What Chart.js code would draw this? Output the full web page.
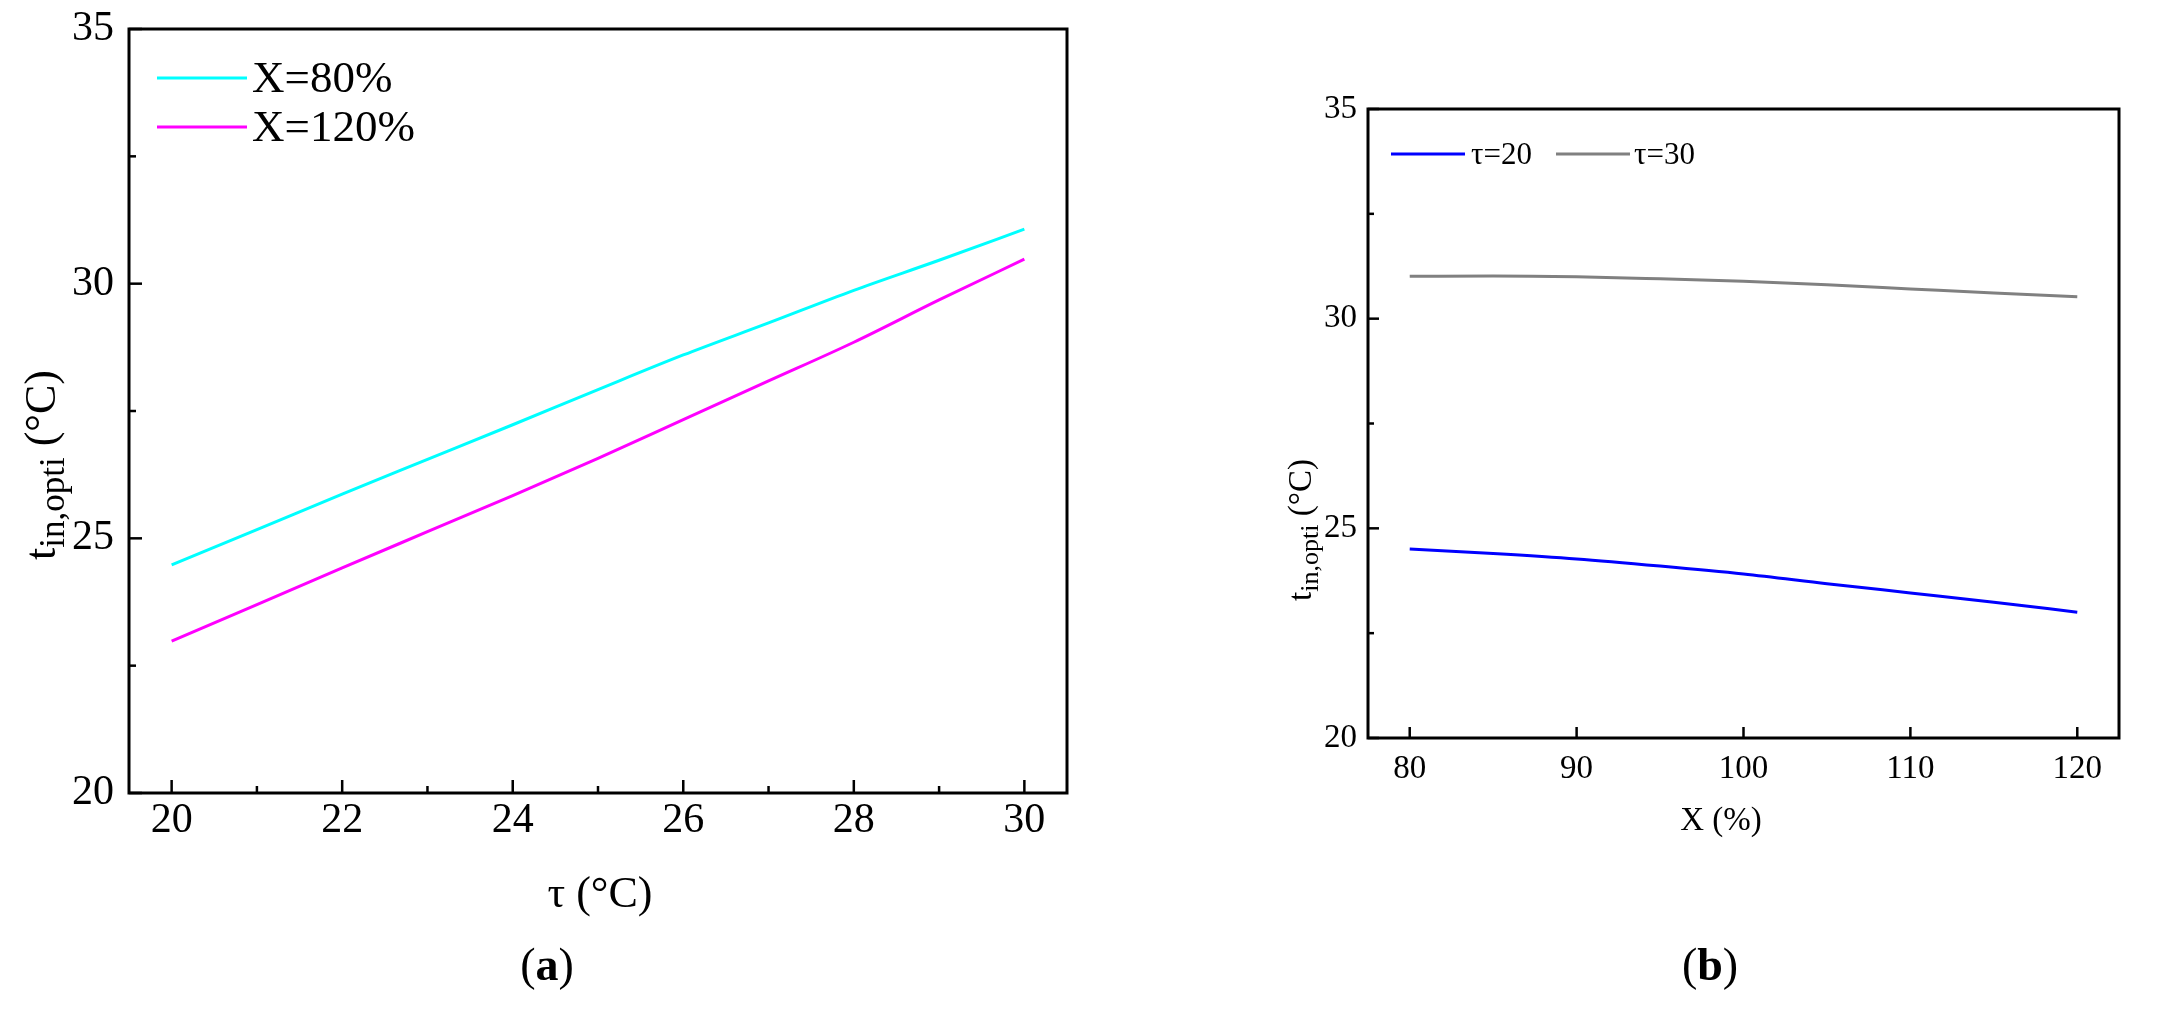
<!DOCTYPE html>
<html>
<head>
<meta charset="utf-8">
<script src="https://cdn.jsdelivr.net/npm/chart.js@4.4.0/dist/chart.umd.min.js"></script>
<style>
    body { margin: 0; background: #fff; width: 2182px; height: 1012px; position: relative; overflow: hidden; }
    canvas { position: absolute; top: 0; }
    .tag { position: absolute; font-family: 'Liberation Serif', serif; font-size: 46px; color: #000; transform: translate(-50%, -50%); }
</style>
</head>
<body>
<canvas id="chartA" width="1100" height="1012" style="left:0"></canvas>
<canvas id="chartB" width="942" height="1012" style="left:1240px"></canvas>
<div class="tag" style="left:547px;top:964px">(<b>a</b>)</div>
<div class="tag" style="left:1710px;top:964px">(<b>b</b>)</div>

<script>
// Données
const tauValues = [20, 21, 22, 23, 24, 25, 26, 27, 28, 29, 30];
const tinX80 = [24.48, 25.17, 25.87, 26.55, 27.23, 27.92, 28.60, 29.23, 29.87, 30.46, 31.07];
const tinX120 = [22.98, 23.70, 24.42, 25.13, 25.84, 26.57, 27.33, 28.09, 28.85, 29.68, 30.48];

const loadValues = [80, 85, 90, 95, 100, 105, 110, 115, 120];
const tinTau20 = [24.51, 24.40, 24.27, 24.10, 23.91, 23.68, 23.46, 23.24, 23.00];
const tinTau30 = [31.01, 31.02, 31.00, 30.95, 30.89, 30.81, 30.71, 30.61, 30.52];

// Graduations
const tauTicks = [20, 22, 24, 26, 28, 30];
const tauMinor = [21, 23, 25, 27, 29];
const loadTicks = [80, 90, 100, 110, 120];
const tinTicks = [20, 25, 30, 35];
const tinMinor = [22.5, 27.5, 32.5];

Chart.defaults.font.family = "'Liberation Serif', 'Times New Roman', serif";
Chart.defaults.color = '#000';

function toPoints(xs, ys) {
    return xs.map((x, i) => ({ x: x, y: ys[i] }));
}

// Cadre, graduations vers l'intérieur, titres d'axes et légende
const framePlugin = {
    id: 'frame',
    afterDraw(chart, args, o) {
        const { ctx, chartArea: a, scales: { x, y } } = chart;
        ctx.save();
        ctx.strokeStyle = '#000';
        ctx.lineCap = 'butt';

        // ticks
        ctx.lineWidth = 2.5;
        const xTick = (v, len) => {
            const px = x.getPixelForValue(v);
            ctx.beginPath(); ctx.moveTo(px, a.bottom); ctx.lineTo(px, a.bottom - len); ctx.stroke();
        };
        const yTick = (v, len) => {
            const py = y.getPixelForValue(v);
            ctx.beginPath(); ctx.moveTo(a.left, py); ctx.lineTo(a.left + len, py); ctx.stroke();
        };
        o.xMajor.forEach(v => xTick(v, o.major));
        o.xMinor.forEach(v => xTick(v, o.minor));
        o.yMajor.forEach(v => yTick(v, o.major));
        o.yMinor.forEach(v => yTick(v, o.minor));

        // cadre
        ctx.lineWidth = 3;
        ctx.strokeRect(a.left, a.top, a.right - a.left, a.bottom - a.top);

        // titre axe x
        ctx.fillStyle = '#000';
        ctx.textAlign = 'center';
        ctx.textBaseline = 'middle';
        ctx.font = o.titleSize + "px 'Liberation Serif'";
        ctx.fillText(o.xTitle, o.xTitleX, o.xTitleY);

        // titre axe y avec indice
        const big = o.titleSize + "px 'Liberation Serif'";
        const small = Math.round(o.titleSize * 0.8) + "px 'Liberation Serif'";
        ctx.font = big; const w1 = ctx.measureText('t').width;
        ctx.font = small; const w2 = ctx.measureText('in,opti').width;
        ctx.font = big; const w3 = ctx.measureText(' (°C)').width;
        const total = w1 + w2 + w3;
        ctx.translate(o.yTitleX, o.yTitleY);
        ctx.rotate(-Math.PI / 2);
        ctx.textAlign = 'left';
        ctx.textBaseline = 'alphabetic';
        let cx = -total / 2;
        const base = o.titleSize * 0.33;
        ctx.font = big; ctx.fillText('t', cx, base); cx += w1;
        ctx.font = small; ctx.fillText('in,opti', cx, base + o.titleSize * 0.22); cx += w2;
        ctx.font = big; ctx.fillText(' (°C)', cx, base);
        ctx.setTransform(1, 0, 0, 1, 0, 0);

        // légende
        ctx.font = o.legendSize + "px 'Liberation Serif'";
        ctx.textBaseline = 'middle';
        ctx.textAlign = 'left';
        o.legend.forEach((item, i) => {
            const ds = chart.data.datasets[i];
            ctx.strokeStyle = ds.borderColor;
            ctx.lineWidth = 3;
            ctx.beginPath(); ctx.moveTo(item.x1, item.y); ctx.lineTo(item.x2, item.y); ctx.stroke();
            ctx.fillText(ds.label, item.tx, item.y + 2);
        });
        ctx.restore();
    }
};

function axisOptions(min, max, ticks, size, pad, fitKey, fitVal) {
    return {
        type: 'linear',
        min: min,
        max: max,
        afterBuildTicks: s => { s.ticks = ticks.map(v => ({ value: v })); },
        afterFit: s => {
            s[fitKey] = fitVal;
            s.paddingTop = 0; s.paddingBottom = 0;
            s.paddingLeft = 0; s.paddingRight = 0;
        },
        ticks: { font: { size: size }, padding: pad, color: '#000' },
        grid: { drawOnChartArea: false, drawTicks: false },
        border: { display: false }
    };
}

function lineDataset(label, xs, ys, color) {
    return {
        label: label,
        data: toPoints(xs, ys),
        borderColor: color,
        backgroundColor: color,
        borderWidth: 3,
        pointRadius: 0,
        fill: false,
        cubicInterpolationMode: 'monotone'
    };
}

// Graphique (a)
new Chart(document.getElementById('chartA'), {
    type: 'line',
    data: {
        datasets: [
            lineDataset('X=80%', tauValues, tinX80, '#00ffff'),
            lineDataset('X=120%', tauValues, tinX120, '#ff00ff')
        ]
    },
    options: {
        responsive: false,
        animation: false,
        layout: { padding: { top: 29, right: 33, left: 0, bottom: 0 } },
        plugins: {
            legend: { display: false },
            tooltip: { enabled: false },
            frame: {
                titleSize: 44, legendSize: 45, major: 13, minor: 7,
                xMajor: tauTicks, xMinor: tauMinor, yMajor: tinTicks, yMinor: tinMinor,
                xTitle: 'τ (°C)', xTitleX: 600, xTitleY: 895,
                yTitleX: 40, yTitleY: 465,
                legend: [
                    { x1: 157, x2: 247, tx: 252, y: 78 },
                    { x1: 157, x2: 247, tx: 252, y: 127 }
                ]
            }
        },
        scales: {
            x: axisOptions(19.5, 30.5, tauTicks, 42, 3, 'height', 219),
            y: axisOptions(20, 35, tinTicks, 42, 15, 'width', 129)
        }
    },
    plugins: [framePlugin]
});

// Graphique (b)
new Chart(document.getElementById('chartB'), {
    type: 'line',
    data: {
        datasets: [
            lineDataset('τ=20', loadValues, tinTau20, '#0000ff'),
            lineDataset('τ=30', loadValues, tinTau30, '#808080')
        ]
    },
    options: {
        responsive: false,
        animation: false,
        layout: { padding: { top: 109, right: 63, left: 0, bottom: 0 } },
        plugins: {
            legend: { display: false },
            tooltip: { enabled: false },
            frame: {
                titleSize: 33, legendSize: 31, major: 11, minor: 6,
                xMajor: loadTicks, xMinor: [], yMajor: tinTicks, yMinor: tinMinor,
                xTitle: 'X (%)', xTitleX: 481, xTitleY: 821,
                yTitleX: 60, yTitleY: 530,
                legend: [
                    { x1: 151, x2: 225, tx: 231, y: 154 },
                    { x1: 316, x2: 390, tx: 394, y: 154 }
                ]
            }
        },
        scales: {
            x: axisOptions(77.5, 122.5, loadTicks, 33, 12, 'height', 274),
            y: axisOptions(20, 35, tinTicks, 33, 11, 'width', 128)
        }
    },
    plugins: [framePlugin]
});
</script>
</body>
</html>
